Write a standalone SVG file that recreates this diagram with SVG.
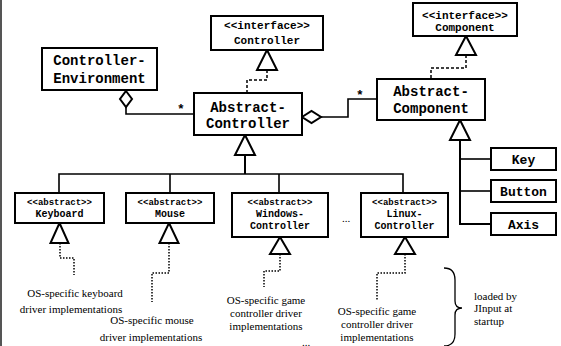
<svg xmlns="http://www.w3.org/2000/svg" width="561" height="346" viewBox="0 0 561 346">
<style>
rect.b{fill:#fff;stroke:#000;stroke-width:2}
.m{font-family:"Liberation Mono","Courier New",monospace;font-weight:bold;fill:#000;text-anchor:middle}
.big{font-size:14px}
.mid{font-size:13px}
.ster{font-size:11px}
.sm{font-size:9px}
.nm{font-size:10px}
.s{font-family:"Liberation Serif","Times New Roman",serif;font-size:11px;fill:#000;text-anchor:middle}
.sl{text-anchor:start}
.tri{fill:#fff;stroke:#000;stroke-width:2;stroke-linejoin:miter}
.ln{fill:none;stroke:#000;stroke-width:2}
.th{fill:none;stroke:#000;stroke-width:1.6}
.dash{fill:none;stroke:#000;stroke-width:1.5;stroke-dasharray:3 2}
.dot{fill:none;stroke:#000;stroke-width:1.5;stroke-dasharray:1.5 1.5}
</style>
<line x1="1" y1="0" x2="1" y2="346" stroke="#555" stroke-width="2"/>
<g id="connectors">
  <polygon class="tri" points="126,91 132,99 126,107 120,99"/>
  <polyline class="th" points="126,107 126,114 194,114"/>
  <text class="m mid" x="181" y="113">*</text>
  <polygon class="tri" points="267,50 277,70 257,70"/>
  <polyline class="dash" points="267,70 267,80 247,80 247,93"/>
  <polygon class="tri" points="302,117 311.5,111 321,117 311.5,123"/>
  <polyline class="th" points="321,117 348,117 348,99 377,99"/>
  <text class="m mid" x="360" y="99">*</text>
  <polygon class="tri" points="466,36 476,55 456,55"/>
  <polyline class="dash" points="466,55 466,68 431,68 431,79"/>
  <polygon class="tri" points="460,120 470,140 450,140"/>
  <polyline class="ln" points="460,140 460,224 491,224"/>
  <line class="th" x1="460" y1="159" x2="491" y2="159"/>
  <line class="th" x1="460" y1="191" x2="491" y2="191"/>
  <polygon class="tri" points="245,135 255,155 235,155"/>
  <line class="ln" x1="245" y1="155" x2="245" y2="174"/>
  <polyline class="th" points="59,193 59,174 403,174 403,193"/>
  <line class="th" x1="170" y1="174" x2="170" y2="193"/>
  <line class="th" x1="279" y1="174" x2="279" y2="193"/>
  <polygon class="tri" points="59.5,223 68.5,243 50.5,243"/>
  <polyline class="dot" points="60,243 60,258 74,258 74,275"/>
  <polygon class="tri" points="169,223 178.5,243 159.5,243"/>
  <polyline class="dot" points="169,243 169,273 152,273 152,302"/>
  <polygon class="tri" points="280,237 290,254 270,254"/>
  <polyline class="dot" points="280,254 280,271 264,271 264,287"/>
  <polygon class="tri" points="405,237 415,254 395,254"/>
  <polyline class="dot" points="405,254 405,273 377,273 377,300"/>
  <path d="M444,268 Q455,268 455,280 L455,301 Q455,308 462,308 Q455,308 455,315 L455,334 Q455,346 444,346" fill="none" stroke="#000" stroke-width="1.3"/>
</g>
<g id="controller-environment">
  <rect class="b" x="42" y="48" width="115" height="42"/>
  <text class="m big" x="99.5" y="65">Controller-</text>
  <text class="m big" x="99.5" y="83">Environment</text>
</g>
<g id="interface-controller">
  <rect class="b" x="211" y="16" width="112" height="34"/>
  <text class="m ster" x="267" y="29">&lt;&lt;interface&gt;&gt;</text>
  <text class="m ster" x="267" y="44">Controller</text>
</g>
<g id="abstract-controller">
  <rect class="b" x="194" y="93" width="108" height="42"/>
  <text class="m big" x="248" y="112">Abstract-</text>
  <text class="m big" x="248" y="128">Controller</text>
</g>
<g id="interface-component">
  <rect class="b" x="413" y="3" width="104" height="33"/>
  <text class="m ster" x="465" y="19">&lt;&lt;interface&gt;&gt;</text>
  <text class="m ster" x="465" y="31">Component</text>
</g>
<g id="abstract-component">
  <rect class="b" x="377" y="79" width="108" height="41"/>
  <text class="m big" x="431" y="96">Abstract-</text>
  <text class="m big" x="431" y="113">Component</text>
</g>
<g id="key">
  <rect class="b" x="491" y="148" width="65" height="22"/>
  <text class="m mid" x="523.5" y="163.5">Key</text>
</g>
<g id="button">
  <rect class="b" x="491" y="180" width="65" height="22"/>
  <text class="m mid" x="523.5" y="195.5">Button</text>
</g>
<g id="axis">
  <rect class="b" x="491" y="213" width="65" height="22"/>
  <text class="m mid" x="523.5" y="228.5">Axis</text>
</g>
<g id="keyboard">
  <rect class="b" x="15" y="193" width="89" height="30"/>
  <text class="m sm" x="59.5" y="204.5">&lt;&lt;abstract&gt;&gt;</text>
  <text class="m nm" x="59.5" y="217">Keyboard</text>
</g>
<g id="mouse">
  <rect class="b" x="126" y="193" width="88" height="30"/>
  <text class="m sm" x="170" y="204.5">&lt;&lt;abstract&gt;&gt;</text>
  <text class="m nm" x="170" y="217">Mouse</text>
</g>
<g id="windows-controller">
  <rect class="b" x="232" y="193" width="96" height="44"/>
  <text class="m sm" x="280" y="204.5">&lt;&lt;abstract&gt;&gt;</text>
  <text class="m nm" x="280" y="216.5">Windows-</text>
  <text class="m nm" x="280" y="229">Controller</text>
</g>
<g id="ellipsis">
  <text class="s" x="346" y="222">...</text>
</g>
<g id="linux-controller">
  <rect class="b" x="361" y="193" width="87" height="44"/>
  <text class="m sm" x="404.5" y="204.5">&lt;&lt;abstract&gt;&gt;</text>
  <text class="m nm" x="404.5" y="216.5">Linux-</text>
  <text class="m nm" x="404.5" y="229">Controller</text>
</g>
<g id="keyboard-impl">
  <text class="s" x="75" y="297">OS-specific keyboard</text>
  <text class="s" x="71" y="313">driver implementations</text>
</g>
<g id="mouse-impl">
  <text class="s" x="152" y="324">OS-specific mouse</text>
  <text class="s" x="151" y="341">driver implementations</text>
</g>
<g id="windows-impl">
  <text class="s" x="266" y="304">OS-specific game</text>
  <text class="s" x="266" y="317">controller driver</text>
  <text class="s" x="266" y="330">implementations</text>
  <text class="s" x="306" y="345.5">...</text>
</g>
<g id="linux-impl">
  <text class="s" x="377" y="315">OS-specific game</text>
  <text class="s" x="377" y="328">controller driver</text>
  <text class="s" x="377" y="341">implementations</text>
</g>
<g id="loaded-note">
  <text class="s sl" x="474" y="300">loaded by</text>
  <text class="s sl" x="474" y="312">JInput at</text>
  <text class="s sl" x="474" y="325">startup</text>
</g>
</svg>
